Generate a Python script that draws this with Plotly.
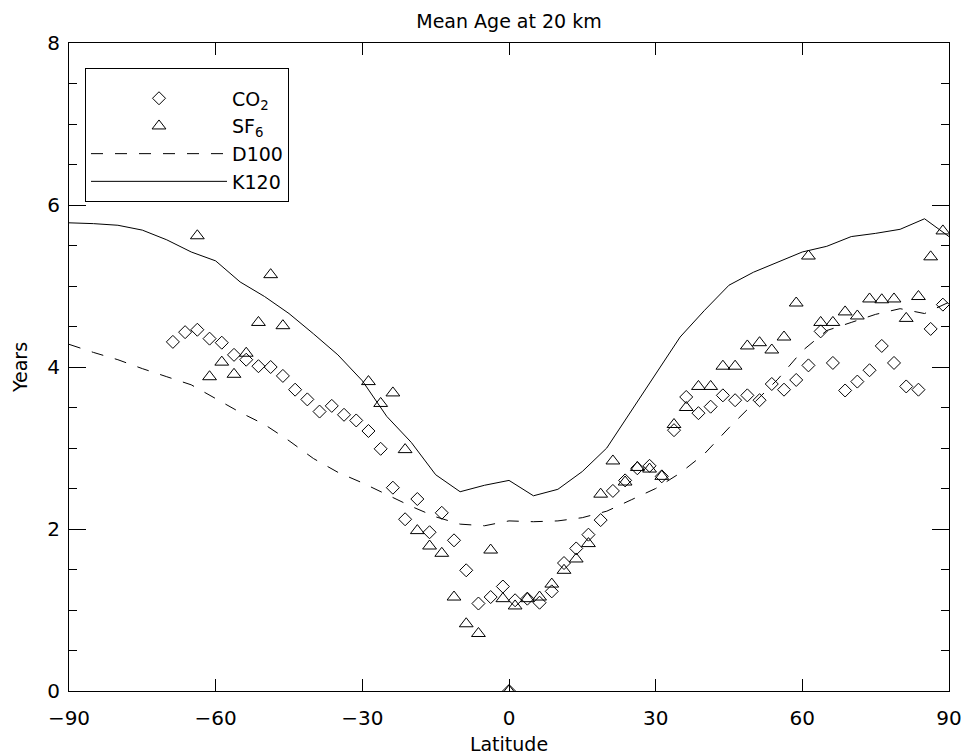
import plotly.graph_objects as go

# ---- data ----
model_lat = [-90, -85, -80, -75, -70, -65, -60, -55, -50, -45, -40, -35, -30, -25, -20, -15, -10, -5,
             0, 5, 10, 15, 20, 25, 30, 35, 40, 45, 50, 55, 60, 65, 70, 75, 80, 85, 90]
k120 = [5.78, 5.77, 5.75, 5.69, 5.57, 5.42, 5.31, 5.05, 4.87, 4.66, 4.41, 4.15, 3.83, 3.39, 3.07, 2.67, 2.46, 2.54,
        2.60, 2.41, 2.49, 2.71, 3.00, 3.46, 3.92, 4.37, 4.70, 5.01, 5.17, 5.30, 5.42, 5.49, 5.61, 5.65, 5.70, 5.83, 5.61]
d100 = [4.28, 4.18, 4.09, 3.98, 3.88, 3.78, 3.61, 3.44, 3.29, 3.09, 2.87, 2.70, 2.57, 2.42, 2.28, 2.15, 2.06, 2.04,
        2.10, 2.09, 2.10, 2.14, 2.22, 2.36, 2.50, 2.69, 2.93, 3.25, 3.55, 3.85, 4.20, 4.45, 4.55, 4.65, 4.72, 4.66, 4.80]

co2_lat = [-68.75, -66.25, -63.75, -61.25, -58.75, -56.25, -53.75, -51.25, -48.75, -46.25, -43.75, -41.25,
           -38.75, -36.25, -33.75, -31.25, -28.75, -26.25, -23.75, -21.25, -18.75, -16.25, -13.75, -11.25,
           -8.75, -6.25, -3.75, -1.25, 1.25, 3.75, 6.25, 8.75, 11.25, 13.75, 16.25, 18.75, 21.25, 23.75,
           26.25, 28.75, 31.25, 33.75, 36.25, 38.75, 41.25, 43.75, 46.25, 48.75, 51.25, 53.75, 56.25, 58.75,
           61.25, 63.75, 66.25, 68.75, 71.25, 73.75, 76.25, 78.75, 81.25, 83.75, 86.25, 88.75]
co2 = [4.31, 4.43, 4.46, 4.35, 4.30, 4.15, 4.09, 4.01, 4.00, 3.89, 3.72, 3.60,
       3.45, 3.52, 3.41, 3.34, 3.21, 2.99, 2.51, 2.12, 2.37, 1.96, 2.20, 1.86,
       1.49, 1.08, 1.16, 1.29, 1.12, 1.14, 1.09, 1.23, 1.58, 1.76, 1.93, 2.11, 2.47, 2.60,
       2.75, 2.78, 2.65, 3.22, 3.63, 3.43, 3.51, 3.65, 3.59, 3.65, 3.59, 3.79, 3.72, 3.84,
       4.02, 4.44, 4.05, 3.71, 3.82, 3.96, 4.26, 4.05, 3.76, 3.72, 4.47, 4.77]

sf6_lat = [-63.75, -61.25, -58.75, -56.25, -53.75, -51.25, -48.75, -46.25,
           -28.75, -26.25, -23.75, -21.25, -18.75, -16.25, -13.75, -11.25, -8.75, -6.25, -3.75, -1.25,
           1.25, 3.75, 6.25, 8.75, 11.25, 13.75, 16.25, 18.75, 21.25, 23.75, 26.25, 28.75, 31.25,
           33.75, 36.25, 38.75, 41.25, 43.75, 46.25, 48.75, 51.25, 53.75, 56.25, 58.75, 61.25, 63.75,
           66.25, 68.75, 71.25, 73.75, 76.25, 78.75, 81.25, 83.75, 86.25, 88.75]
sf6 = [5.62, 3.88, 4.06, 3.91, 4.17, 4.55, 5.14, 4.51,
       3.82, 3.55, 3.68, 2.98, 1.98, 1.79, 1.70, 1.16, 0.83, 0.71, 1.74, 1.14,
       1.05, 1.14, 1.16, 1.32, 1.49, 1.63, 1.82, 2.43, 2.84, 2.58, 2.76, 2.74, 2.65,
       3.29, 3.50, 3.76, 3.76, 4.01, 4.01, 4.26, 4.30, 4.21, 4.37, 4.79, 5.37, 4.55,
       4.55, 4.68, 4.63, 4.84, 4.83, 4.84, 4.60, 4.87, 5.36, 5.68]

# stray points drawn at the equator on the zero line
zero_lat = [0]
zero_val = [0]

x_ticks = [-90, -60, -30, 0, 30, 60, 90]
y_ticks = [0, 2, 4, 6, 8]

FONT = "DejaVu Sans"

fig = go.Figure()
fig.add_trace(go.Scatter(x=co2_lat, y=co2, mode="markers", name="CO<sub>2</sub>",
                         marker=dict(symbol="diamond-open", size=10, color="black", line=dict(width=1, color="black"))))
fig.add_trace(go.Scatter(x=sf6_lat, y=sf6, mode="markers", name="SF<sub>6</sub>",
                         marker=dict(symbol="triangle-up-open", size=12, color="black", line=dict(width=1, color="black"))))
fig.add_trace(go.Scatter(x=model_lat, y=d100, mode="lines", name="D100",
                         line=dict(color="black", width=1, dash="12px,12px")))
fig.add_trace(go.Scatter(x=model_lat, y=k120, mode="lines", name="K120",
                         line=dict(color="black", width=1)))
fig.add_trace(go.Scatter(x=zero_lat, y=zero_val, mode="markers", showlegend=False,
                         marker=dict(symbol="triangle-up-open", size=12, color="black", line=dict(width=1, color="black"))))
fig.add_trace(go.Scatter(x=zero_lat, y=zero_val, mode="markers", showlegend=False,
                         marker=dict(symbol="diamond-open", size=10, color="black", line=dict(width=1, color="black"))))

fig.update_layout(
    template="none",
    width=964, height=755,
    margin=dict(l=69, r=15, t=43, b=64, autoexpand=False),
    paper_bgcolor="white", plot_bgcolor="white",
    font=dict(family=FONT, size=19, color="black"),
    title=dict(text="Mean Age at 20 km", x=0.5, xref="paper", xanchor="center",
               y=1 - 21.5 / 755, yref="container", yanchor="middle", pad=dict(t=0, b=0),
               font=dict(family=FONT, size=19, color="black")),
    showlegend=True,
    legend=dict(x=16 / 880, y=(691 - 68) / 648, xanchor="left", yanchor="top",
                bgcolor="white", bordercolor="black", borderwidth=1,
                font=dict(family=FONT, size=19, color="black"),
                title=dict(text=" ", font=dict(size=8)),
                itemwidth=136, tracegroupgap=0),
    xaxis=dict(range=[-90, 90], tickvals=x_ticks, ticks="inside", ticklen=12, tickcolor="black",
               tickwidth=1, showline=True, linecolor="black", linewidth=1, mirror="ticks",
               showgrid=False, zeroline=False, tickfont=dict(size=20), automargin=False,
               ticklabelstandoff=9,
               title=dict(text="Latitude", font=dict(size=19), standoff=10)),
    yaxis=dict(range=[0, 8], tickvals=y_ticks, ticks="inside", ticklen=17, tickcolor="black",
               tickwidth=1, showline=True, linecolor="black", linewidth=1, mirror="ticks",
               showgrid=False, zeroline=False, tickfont=dict(size=20), automargin=False,
               ticklabelstandoff=4,
               minor=dict(dtick=0.5, ticks="inside", ticklen=8, tickcolor="black", showgrid=False),
               title=dict(text="Years", font=dict(size=19), standoff=14)),
)

fig.write_html("out.html", config={"displayModeBar": False},
               post_script="document.body.style.margin='0';")
